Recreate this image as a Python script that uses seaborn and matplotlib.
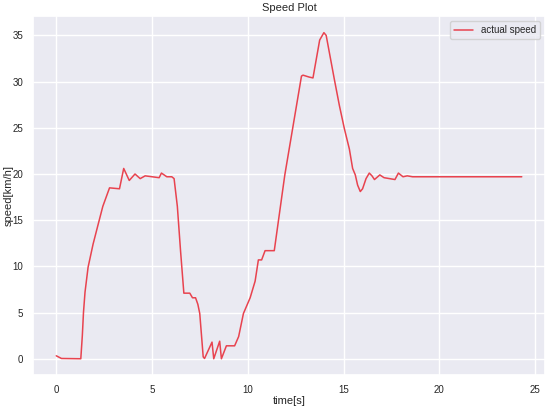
import matplotlib
matplotlib.use('Agg')
import matplotlib.pyplot as plt
import seaborn as sns
import pandas as pd

# valores
tempo = [0, 0.27, 1.28, 1.36, 1.42, 1.5, 1.66, 1.92, 2.18, 2.43, 2.78, 3.3, 3.52,
         3.81, 4.11, 4.38, 4.64, 5.37, 5.49, 5.77, 6.03, 6.15, 6.32, 6.49,
         6.66, 6.8, 6.97, 7.11, 7.27, 7.39, 7.49, 7.67, 7.74, 8.13, 8.22,
         8.53, 8.62, 8.88, 9.31, 9.52, 9.77, 10.12, 10.38, 10.55, 10.72,
         10.9, 11.38, 11.93, 12.8, 12.88, 13.19, 13.4, 13.75, 13.97, 14.09,
         14.26, 14.52, 14.78, 15.04, 15.3, 15.47, 15.61, 15.73, 15.87, 15.99,
         16.17, 16.34, 16.48, 16.61, 16.89, 17.11, 17.68, 17.86, 18.1, 18.32,
         18.6, 24.3]
velocidade = [0.32, 0.03, 0.0, 2.5, 5.0, 7.2, 9.9, 12.4, 14.5, 16.5, 18.5, 18.4, 20.6,
              19.3, 20.0, 19.5, 19.8, 19.6, 20.1, 19.7, 19.7, 19.5, 16.5, 11.6,
              7.1, 7.1, 7.1, 6.6, 6.6, 5.9, 4.9, 0.2, 0.03, 1.8, 0.0,
              1.9, 0.0, 1.4, 1.4, 2.4, 4.9, 6.6, 8.4, 10.7, 10.7,
              11.7, 11.7, 19.9, 30.6, 30.7, 30.5, 30.4, 34.5, 35.3, 35.0,
              33.1, 30.2, 27.4, 24.9, 22.7, 20.6, 19.9, 18.8, 18.1, 18.4,
              19.5, 20.1, 19.8, 19.4, 19.9, 19.6, 19.4, 20.1, 19.7, 19.8,
              19.7, 19.7]

df = pd.DataFrame({'time': tempo, 'speed': velocidade})

sns.set_theme(style='darkgrid')
plt.rcParams['font.family'] = ['Liberation Sans', 'DejaVu Sans']
fig, ax = plt.subplots(figsize=(5.5, 4.09), dpi=100)
fig.subplots_adjust(left=0.06, right=0.991, bottom=0.083, top=0.960)

sns.lineplot(data=df, x='time', y='speed', color='#e8434f', linewidth=1.1,
             label='actual speed', ax=ax)

ax.set_title('Speed Plot', fontsize=8, pad=4)
ax.set_xlabel('time[s]', fontsize=8, labelpad=1)
ax.set_ylabel('speed[km/h]', fontsize=8)
ax.yaxis.set_label_coords(-0.038, 0.5)
ax.set_xticks([0, 5, 10, 15, 20, 25])
ax.set_yticks([0, 5, 10, 15, 20, 25, 30, 35])
ax.tick_params(labelsize=7, pad=1)
ax.legend(loc='upper right', fontsize=7)

plt.savefig('out.png', dpi=100)
